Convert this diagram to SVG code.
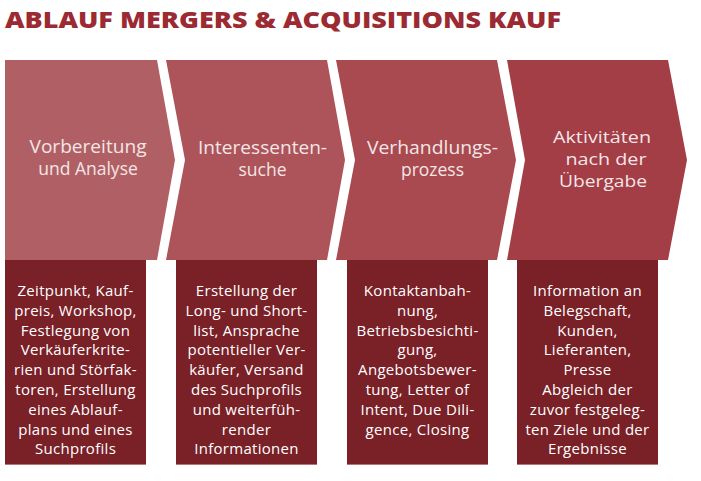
<svg xmlns="http://www.w3.org/2000/svg" width="701" height="481" viewBox="0 0 701 481">
<style>
.title{font-family:"Open Sans","Liberation Sans",sans-serif;font-weight:800;font-size:23px;fill:#9b2a32}
.cl{font-family:"Open Sans","Liberation Sans",sans-serif;font-weight:400;font-size:17.5px;fill:#f3e6e6;text-anchor:middle}
.cl4{font-size:16px}
.bt{font-family:"Open Sans","Liberation Sans",sans-serif;font-weight:500;font-size:15px;letter-spacing:0.3px;fill:#ffffff;text-anchor:middle}
.box{fill:#7a2027}
.edge{stroke:#b97378;stroke-width:1}
</style>
<rect width="701" height="481" fill="#ffffff"/>
<text class="title" x="5" y="28" textLength="556" lengthAdjust="spacingAndGlyphs">ABLAUF MERGERS &amp; ACQUISITIONS KAUF</text>

<g id="step1">
<polygon points="5,60 157,60 175,160 157,260 5,260" fill="#b06064"/>
<text class="cl" x="88" y="153" textLength="117" lengthAdjust="spacingAndGlyphs">Vorbereitung</text>
<text class="cl" x="88" y="175">und Analyse</text>
</g>
<g id="step2">
<polygon points="166,60 327,60 345,160 327,260 166,260 185,160" fill="#ac545a"/>
<text class="cl" x="262.5" y="154" textLength="129" lengthAdjust="spacingAndGlyphs">Interessenten-</text>
<text class="cl" x="262.5" y="176">suche</text>
</g>
<g id="step3">
<polygon points="336,60 497,60 516,160 497,260 336,260 355,160" fill="#a84a50"/>
<text class="cl" x="432.5" y="154" textLength="131" lengthAdjust="spacingAndGlyphs">Verhandlungs-</text>
<text class="cl" x="432.5" y="176">prozess</text>
</g>
<g id="step4">
<polygon points="507,60 668,60 687,160 668,260 507,260 525,160" fill="#a33d46"/>
<text class="cl cl4" x="602" y="142.5" textLength="98" lengthAdjust="spacingAndGlyphs">Aktivitäten</text>
<text class="cl cl4" x="606" y="164.5" textLength="81" lengthAdjust="spacingAndGlyphs">nach der</text>
<text class="cl cl4" x="603" y="186.5" textLength="88" lengthAdjust="spacingAndGlyphs">Übergabe</text>
</g>

<g id="box1">
<rect class="box" x="5" y="260" width="141" height="204"/>
<line class="edge" x1="5" y1="464.5" x2="146" y2="464.5"/>
<text class="bt" x="75.5" y="296">Zeitpunkt, Kauf-</text>
<text class="bt" x="75.5" y="315.8">preis, Workshop,</text>
<text class="bt" x="75.5" y="335.6">Festlegung von</text>
<text class="bt" x="75.5" y="355.4">Verkäuferkrite-</text>
<text class="bt" x="75.5" y="375.2">rien und Störfak-</text>
<text class="bt" x="75.5" y="395">toren, Erstellung</text>
<text class="bt" x="75.5" y="414.8">eines Ablauf-</text>
<text class="bt" x="75.5" y="434.6">plans und eines</text>
<text class="bt" x="75.5" y="454.4">Suchprofils</text>
</g>
<g id="box2">
<rect class="box" x="176" y="260" width="141" height="204"/>
<line class="edge" x1="176" y1="464.5" x2="317" y2="464.5"/>
<text class="bt" x="246.5" y="296">Erstellung der</text>
<text class="bt" x="246.5" y="315.8">Long- und Short-</text>
<text class="bt" x="246.5" y="335.6">list, Ansprache</text>
<text class="bt" x="246.5" y="355.4">potentieller Ver-</text>
<text class="bt" x="246.5" y="375.2">käufer, Versand</text>
<text class="bt" x="246.5" y="395">des Suchprofils</text>
<text class="bt" x="246.5" y="414.8">und weiterfüh-</text>
<text class="bt" x="246.5" y="434.6">render</text>
<text class="bt" x="246.5" y="454.4">Informationen</text>
</g>
<g id="box3">
<rect class="box" x="347" y="260" width="141" height="204"/>
<line class="edge" x1="347" y1="464.5" x2="488" y2="464.5"/>
<text class="bt" x="417.5" y="296">Kontaktanbah-</text>
<text class="bt" x="417.5" y="315.8">nung,</text>
<text class="bt" x="417.5" y="335.6">Betriebsbesichti-</text>
<text class="bt" x="417.5" y="355.4">gung,</text>
<text class="bt" x="417.5" y="375.2">Angebotsbewer-</text>
<text class="bt" x="417.5" y="395">tung, Letter of</text>
<text class="bt" x="417.5" y="414.8">Intent, Due Dili-</text>
<text class="bt" x="417.5" y="434.6">gence, Closing</text>
</g>
<g id="box4">
<rect class="box" x="517" y="260" width="141" height="204"/>
<line class="edge" x1="517" y1="464.5" x2="658" y2="464.5"/>
<text class="bt" x="587.5" y="296">Information an</text>
<text class="bt" x="587.5" y="315.8">Belegschaft,</text>
<text class="bt" x="587.5" y="335.6">Kunden,</text>
<text class="bt" x="587.5" y="355.4">Lieferanten,</text>
<text class="bt" x="587.5" y="375.2">Presse</text>
<text class="bt" x="587.5" y="395">Abgleich der</text>
<text class="bt" x="587.5" y="414.8">zuvor festgeleg-</text>
<text class="bt" x="587.5" y="434.6">ten Ziele und der</text>
<text class="bt" x="587.5" y="454.4">Ergebnisse</text>
</g>
<g id="connectors"></g>
</svg>
